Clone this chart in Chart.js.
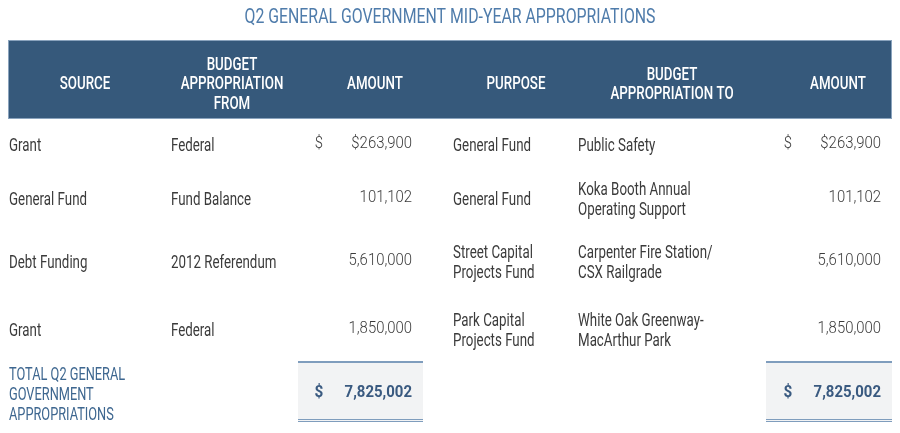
<!DOCTYPE html>
<html>
<head>
<meta charset="utf-8">
<script src="https://cdn.jsdelivr.net/npm/chart.js@4.4.0/dist/chart.umd.min.js"></script>
<style>
  html, body { margin: 0; padding: 0; background: #fff; }
  #wrap { width: 900px; height: 433px; }
</style>
</head>
<body>
<div id="wrap"><canvas id="tbl" width="900" height="433"></canvas></div>
<script>
// table contents
const title = "Q2 GENERAL GOVERNMENT MID-YEAR APPROPRIATIONS";
const headers = [
  ["SOURCE"],
  ["BUDGET", "APPROPRIATION", "FROM"],
  ["AMOUNT"],
  ["PURPOSE"],
  ["BUDGET", "APPROPRIATION TO"],
  ["AMOUNT"]
];
const sources = ["Grant", "General Fund", "Debt Funding", "Grant"];
const budgetFrom = ["Federal", "Fund Balance", "2012 Referendum", "Federal"];
const amountsFrom = [263900, 101102, 5610000, 1850000];
const purposes = [["General Fund"], ["General Fund"], ["Street Capital", "Projects Fund"], ["Park Capital", "Projects Fund"]];
const budgetTo = [["Public Safety"], ["Koka Booth Annual", "Operating Support"], ["Carpenter Fire Station/", "CSX Railgrade"], ["White Oak Greenway-", "MacArthur Park"]];
const amountsTo = [263900, 101102, 5610000, 1850000];
const totalLabel = ["TOTAL Q2 GENERAL", "GOVERNMENT", "APPROPRIATIONS"];

// layout (scale units map 1:1 onto the canvas)
const colX = { source: 9, from: 171, dollarL: 319, amtL: 412, purpose: 453, to: 578, dollarR: 788, amtR: 881 };
const headCenters = [85, 232, 375, 516, 672, 838];
const rowY = [145, 198.5, 261.5, 330];
const totalY = 393.5;

const F = "Roboto, 'Open Sans', sans-serif";
const SX = 0.74; // squeeze to mimic a condensed face

const fmt = v => v.toLocaleString("en-US");

// y is the centre of the capitals
function txt(ctx, s, x, y, align, weight, size, color, sx) {
  ctx.save();
  ctx.font = weight + " " + size + "px " + F;
  ctx.fillStyle = color;
  ctx.textAlign = align;
  ctx.textBaseline = "alphabetic";
  ctx.translate(x, y + size * 0.355);
  ctx.scale(sx || 1, 1);
  ctx.fillText(s, 0, 0);
  ctx.restore();
}

function lines(ctx, arr, x, y, gap, align, weight, size, color, sx) {
  const start = y - (arr.length - 1) * gap / 2;
  arr.forEach((s, i) => txt(ctx, s, x, start + i * gap, align, weight, size, color, sx));
}

const tablePlugin = {
  id: "tablePlugin",
  afterDraw(chart) {
    const ctx = chart.ctx;
    const X = v => chart.scales.x.getPixelForValue(v);
    const Y = v => chart.scales.y.getPixelForValue(v);

    // title
    txt(ctx, title, X(450), Y(15.5), "center", "400", 21, "#4f7cab", 0.755);

    // header band
    ctx.fillStyle = "#36597b";
    ctx.fillRect(X(8), Y(40), X(892) - X(8), Y(119) - Y(40));
    ctx.strokeStyle = "#8aa3bd";
    ctx.lineWidth = 1;
    ctx.strokeRect(X(8) + 0.5, Y(40) + 0.5, X(892) - X(8) - 1, Y(119) - Y(40) - 1);
    headers.forEach((h, i) => {
      lines(ctx, h, X(headCenters[i]), Y(83), 19.5, "center", "500", 18, "#ffffff", 0.74);
    });

    // body rows
    const grey = "#3b3b3b";
    rowY.forEach((ry, i) => {
      const y = Y(ry);
      txt(ctx, sources[i], X(colX.source), y, "left", "400", 18, grey, SX);
      txt(ctx, budgetFrom[i], X(colX.from), y, "left", "400", 18, grey, SX);
      txt(ctx, (i === 0 ? "$" : "") + fmt(amountsFrom[i]), X(colX.amtL), y - 2.5, "right", "300", 16, grey, 0.93);
      lines(ctx, purposes[i], X(colX.purpose), y, 20, "left", "400", 18, grey, SX);
      lines(ctx, budgetTo[i], X(colX.to), y, 20, "left", "400", 18, grey, SX);
      txt(ctx, (i === 0 ? "$" : "") + fmt(amountsTo[i]), X(colX.amtR), y - 2.5, "right", "300", 16, grey, 0.93);
      if (i === 0) {
        txt(ctx, "$", X(colX.dollarL), y - 2.5, "center", "300", 16, grey, 0.93);
        txt(ctx, "$", X(colX.dollarR), y - 2.5, "center", "300", 16, grey, 0.93);
      }
    });

    // totals
    lines(ctx, totalLabel, X(colX.source), Y(totalY), 20, "left", "400", 18, "#3e6790", 0.71);
    const totFrom = amountsFrom.reduce((a, b) => a + b, 0);
    const totTo = amountsTo.reduce((a, b) => a + b, 0);
    [[298, 423, colX.dollarL, colX.amtL, totFrom], [766, 892, colX.dollarR, colX.amtR, totTo]].forEach(b => {
      const x0 = X(b[0]), x1 = X(b[1]);
      ctx.fillStyle = "#f2f3f4";
      ctx.fillRect(x0, Y(361), x1 - x0, Y(422) - Y(361));
      ctx.fillStyle = "#7f9dbd";
      ctx.fillRect(x0, Y(361), x1 - x0, 2);
      ctx.fillRect(x0, Y(419), x1 - x0, 1);
      ctx.fillRect(x0, Y(421), x1 - x0, 1);
      txt(ctx, "$", X(b[2]), Y(391), "center", "bold", 17, "#3a5a80", 0.9);
      txt(ctx, fmt(b[4]), X(b[3]), Y(391), "right", "bold", 17, "#3a5a80", 0.88);
    });
  }
};

new Chart(document.getElementById("tbl"), {
  type: "scatter",
  data: { datasets: [{ data: [], pointRadius: 0 }] },
  options: {
    responsive: false,
    animation: false,
    layout: { padding: 0 },
    plugins: { legend: { display: false }, tooltip: { enabled: false } },
    scales: {
      x: { type: "linear", min: 0, max: 900, display: false },
      y: { type: "linear", min: 0, max: 433, reverse: true, display: false }
    }
  },
  plugins: [tablePlugin]
});
</script>
</body>
</html>
